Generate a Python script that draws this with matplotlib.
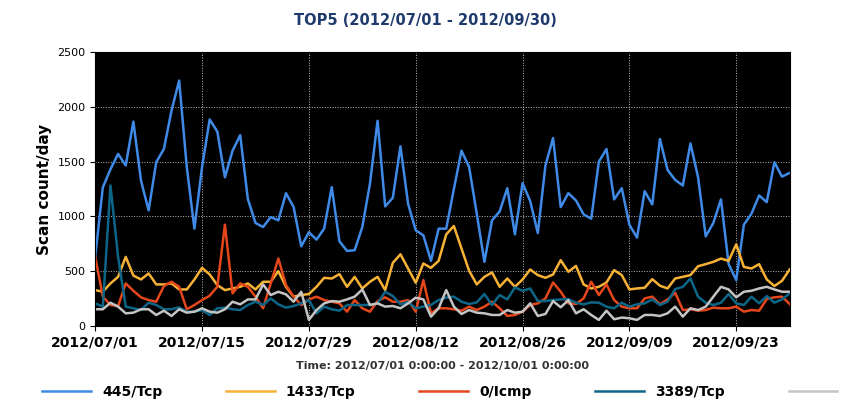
import matplotlib
matplotlib.use("Agg")
import matplotlib.pyplot as plt
import numpy as np

# daily scan counts, 2012/07/01 .. 2012/09/30
tcp445 = [630, 1265, 1430, 1570, 1465, 1865, 1327, 1055, 1495, 1615, 1965, 2240, 1450, 888, 1450,
          1885, 1775, 1357, 1600, 1742, 1160, 940, 903, 994, 964, 1212, 1085, 727, 855, 788,
          888, 1267, 773, 685, 691, 903, 1297, 1873, 1091, 1170, 1640, 1115, 873, 827, 594,
          888, 888, 1250, 1600, 1450, 1025, 585, 964, 1045, 1257, 836, 1303, 1140, 848, 1465,
          1715, 1085, 1212, 1145, 1018, 979, 1500, 1615, 1155, 1257, 924, 806, 1230, 1109, 1706,
          1424, 1333, 1282, 1666, 1357, 818, 940, 1155, 564, 418, 924, 1025, 1191, 1130, 1494,
          1363, 1397]
tcp1433 = [327, 312, 388, 448, 630, 460, 424, 479, 379, 379, 388, 333, 333, 424, 530,
           470, 373, 327, 342, 357, 388, 333, 403, 403, 500, 357, 267, 282, 291, 357,
           439, 433, 473, 357, 448, 342, 403, 448, 327, 576, 654, 524, 394, 570, 530,
           594, 836, 912, 706, 503, 379, 448, 488, 357, 433, 357, 424, 515, 464, 439,
           470, 600, 494, 548, 379, 342, 357, 397, 509, 464, 333, 342, 348, 427, 367,
           342, 433, 448, 464, 545, 564, 585, 615, 594, 745, 539, 524, 564, 424, 364,
           412, 515]
icmp = [630, 267, 191, 182, 388, 321, 261, 236, 221, 364, 403, 357, 152, 191, 236,
        276, 357, 924, 297, 388, 357, 267, 161, 388, 615, 373, 267, 191, 242, 267,
        236, 221, 206, 130, 236, 161, 130, 227, 261, 221, 221, 236, 130, 418, 115,
        161, 161, 152, 139, 176, 145, 176, 221, 161, 91, 100, 130, 191, 206, 251,
        397, 312, 206, 200, 251, 403, 282, 379, 236, 176, 161, 161, 251, 267, 197,
        242, 303, 145, 152, 139, 145, 167, 161, 161, 176, 130, 145, 139, 245, 261,
        267, 200]
tcp3389 = [206, 176, 1282, 630, 176, 161, 145, 212, 191, 152, 152, 170, 130, 130, 145,
           100, 161, 167, 152, 145, 191, 221, 191, 251, 197, 167, 182, 206, 236, 115,
           176, 152, 139, 191, 191, 191, 191, 206, 312, 273, 197, 221, 161, 176, 191,
           236, 258, 267, 221, 200, 215, 291, 191, 282, 242, 351, 321, 342, 227, 227,
           236, 242, 245, 212, 197, 215, 212, 176, 161, 212, 176, 197, 206, 242, 191,
           221, 336, 357, 433, 267, 212, 191, 212, 291, 206, 191, 267, 206, 273, 212,
           242, 297]
tcp23 = [152, 152, 212, 176, 115, 121, 152, 152, 100, 139, 91, 152, 121, 130, 161,
         130, 121, 152, 221, 197, 242, 242, 379, 282, 312, 288, 221, 312, 55, 145,
         206, 227, 221, 242, 267, 333, 191, 206, 176, 182, 161, 206, 258, 242, 85,
         161, 327, 176, 109, 145, 121, 115, 100, 100, 145, 121, 130, 206, 91, 109,
         227, 170, 236, 115, 152, 100, 55, 139, 61, 76, 70, 55, 100, 100, 91,
         115, 176, 85, 161, 145, 176, 267, 357, 333, 261, 312, 321, 342, 357, 333,
         312, 312]

series = [("445/Tcp", tcp445, "#3f8ae6"),
          ("1433/Tcp", tcp1433, "#f7b236"),
          ("0/Icmp", icmp, "#e5461a"),
          ("3389/Tcp", tcp3389, "#0d6688"),
          ("23/Tcp", tcp23, "#c4c4c4")]
tick_labels = ["2012/07/01", "2012/07/15", "2012/07/29", "2012/08/12", "2012/08/26", "2012/09/09", "2012/09/23"]

fig = plt.figure(figsize=(8.5, 4.2), dpi=100)
ax = fig.add_axes([0.112, 0.224, 0.817, 0.652])
ax.set_facecolor("black")
x = np.arange(len(tcp445))
for name, vals, col in series:
    ax.plot(x, vals, color=col, lw=1.8, label=name)

ax.set_xlim(0, len(tcp445) - 1)
ax.set_ylim(0, 2500)
ax.set_yticks(range(0, 2501, 500))
ax.set_xticks(np.arange(0, 85, 14))
ax.set_xticklabels(tick_labels, fontsize=10, fontweight="bold")
ax.tick_params(axis="y", labelsize=8)
ax.grid(True, color="#bbbbbb", ls=":", lw=0.7)
ax.set_ylabel("Scan count/day", fontsize=11, fontweight="bold")
ax.set_xlabel("Time: 2012/07/01 0:00:00 - 2012/10/01 0:00:00", fontsize=8, fontweight="bold",
              color="#333333", labelpad=8)
fig.text(0.5, 0.94, "TOP5 (2012/07/01 - 2012/09/30)", ha="center", fontsize=10.5,
         fontweight="bold", color="#1f3b6e")
fig.legend(loc="lower left", bbox_to_anchor=(0.035, 0.02), ncol=5, frameon=False,
           prop={"weight": "bold", "size": 10}, handlelength=3.5, columnspacing=4.6,
           handletextpad=0.8)
fig.savefig("out.png")
